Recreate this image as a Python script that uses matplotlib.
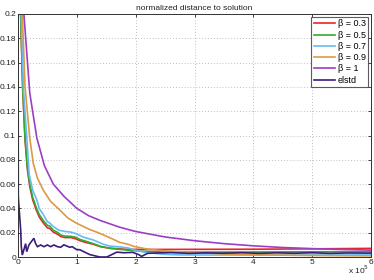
import matplotlib
matplotlib.use("Agg")
import matplotlib.pyplot as plt

# x in units of 1e5 iterations
b03_x = [0.045, 0.08, 0.12, 0.16, 0.2, 0.25, 0.28, 0.3, 0.36, 0.43, 0.5, 0.54, 0.6, 0.68, 0.73, 0.8, 0.9, 0.98, 1.05, 1.15, 1.28, 1.4, 1.56, 1.75, 1.87, 2.2, 3.0, 4.0, 5.0, 6.0]
b03_y = [0.2, 0.138, 0.096, 0.072, 0.058, 0.047, 0.043, 0.040, 0.033, 0.028, 0.024, 0.0235, 0.0205, 0.0185, 0.0168, 0.016, 0.016, 0.015, 0.0135, 0.012, 0.0105, 0.0085, 0.0072, 0.0066, 0.0063, 0.0062, 0.0063, 0.0064, 0.0067, 0.0071]

b05_x = [0.045, 0.08, 0.12, 0.16, 0.2, 0.25, 0.28, 0.3, 0.36, 0.43, 0.5, 0.54, 0.6, 0.68, 0.73, 0.8, 0.9, 0.98, 1.05, 1.15, 1.28, 1.4, 1.56, 1.75, 1.87, 2.1, 2.5, 3.0, 4.0, 5.0, 6.0]
b05_y = [0.2, 0.14, 0.098, 0.074, 0.06, 0.049, 0.045, 0.042, 0.035, 0.03, 0.026, 0.0255, 0.022, 0.02, 0.018, 0.0172, 0.017, 0.0162, 0.0145, 0.013, 0.011, 0.0088, 0.0072, 0.0062, 0.0056, 0.0047, 0.0041, 0.004, 0.0041, 0.0043, 0.0044]

b07_x = [0.055, 0.09, 0.15, 0.19, 0.25, 0.32, 0.36, 0.43, 0.5, 0.54, 0.6, 0.7, 0.8, 0.9, 1.0, 1.1, 1.28, 1.45, 1.56, 1.75, 1.87, 2.0, 2.2, 2.5, 2.75, 3.5, 4.5, 6.0]
b07_y = [0.2, 0.14, 0.098, 0.068, 0.055, 0.047, 0.04, 0.035, 0.029, 0.028, 0.025, 0.022, 0.021, 0.0205, 0.019, 0.0165, 0.014, 0.0105, 0.009, 0.0082, 0.0075, 0.0055, 0.0035, 0.0022, 0.0017, 0.0016, 0.0016, 0.0017]

b09_x = [0.073, 0.12, 0.2, 0.26, 0.33, 0.43, 0.55, 0.71, 0.85, 1.0, 1.2, 1.39, 1.6, 1.73, 1.87, 1.96, 2.2, 2.5, 2.75, 3.0, 3.5, 4.0, 5.0, 6.0]
b09_y = [0.2, 0.14, 0.098, 0.077, 0.065, 0.055, 0.046, 0.0387, 0.032, 0.0277, 0.023, 0.0195, 0.015, 0.012, 0.0105, 0.0088, 0.0065, 0.005, 0.0043, 0.0036, 0.0025, 0.0018, 0.0012, 0.0009]

b1_x = [0.1, 0.2, 0.32, 0.45, 0.6, 0.78, 1.0, 1.2, 1.4, 1.73, 2.0, 2.5, 3.0, 3.5, 4.0, 4.5, 5.0, 5.5, 6.0]
b1_y = [0.2, 0.135, 0.098, 0.075, 0.06, 0.05, 0.040, 0.034, 0.030, 0.0245, 0.021, 0.0165, 0.0134, 0.011, 0.0092, 0.0078, 0.0069, 0.0062, 0.0057]

el_x = [0.0, 0.005, 0.017, 0.046, 0.056, 0.073, 0.10, 0.13, 0.148, 0.187, 0.226, 0.27, 0.30, 0.33, 0.385, 0.44, 0.5, 0.555, 0.61, 0.67, 0.725, 0.78, 0.88, 0.92, 1.0, 1.05, 1.22, 1.39, 1.51, 1.68, 1.8, 1.95, 2.05, 2.1, 2.2, 2.35, 2.6, 2.9, 3.2, 3.5, 3.8, 4.1, 4.4, 4.7, 5.0, 5.3, 5.6, 6.0]
el_y = [0.25, 0.05, 0.041, 0.022, 0.0085, 0.0016, 0.006, 0.011, 0.0044, 0.01, 0.0126, 0.0154, 0.011, 0.0085, 0.0099, 0.0085, 0.0099, 0.0085, 0.0099, 0.0085, 0.008, 0.01, 0.008, 0.0085, 0.006, 0.006, 0.002, 0.0, 0.0, 0.004, 0.0035, 0.0038, 0.002, 0.0005, 0.003, 0.0033, 0.0036, 0.003, 0.0034, 0.0031, 0.0035, 0.003, 0.0034, 0.0031, 0.0035, 0.003, 0.0033, 0.0032]

labels = ["β = 0.3", "β = 0.5", "β = 0.7", "β = 0.9", "β = 1", "elstd"]
colors = ["#e8262a", "#33aa33", "#66bbf5", "#dd9944", "#9b3fc4", "#3a1e78"]

xticks = [0, 1, 2, 3, 4, 5, 6]
yticks = [0, 0.02, 0.04, 0.06, 0.08, 0.1, 0.12, 0.14, 0.16, 0.18, 0.2]
ytick_labels = ["0", "0.02", "0.04", "0.06", "0.08", "0.1", "0.12", "0.14", "0.16", "0.18", "0.2"]

plt.rcParams['font.family'] = ['Liberation Sans', 'DejaVu Sans']
fig = plt.figure(figsize=(3.74, 2.8), dpi=100)
ax = fig.add_axes([18/374, 23/280, 353/374, 243/280])

series = [(b03_x, b03_y), (b05_x, b05_y), (b07_x, b07_y), (b09_x, b09_y), (b1_x, b1_y), (el_x, el_y)]
for (xs, ys), lab, c in zip(series, labels, colors):
    ax.plot(xs, ys, color=c, lw=1.2, label=lab, solid_joinstyle='miter')

ax.set_xlim(0, 6)
ax.set_ylim(0, 0.2)
ax.set_xticks(xticks)
ax.set_xticklabels([str(t) for t in xticks])
ax.set_yticks(yticks)
ax.set_yticklabels(ytick_labels)
ax.tick_params(direction='in', length=2.5, width=0.6, labelsize=6, pad=1.5, colors='#222222', top=True, right=True)
ax.grid(True, linestyle=(0, (1, 2.5)), color='#aaaaaa', linewidth=0.6)
for s in ax.spines.values():
    s.set_linewidth(0.7)
    s.set_color('#333333')

ax.set_title("normalized distance to solution", fontsize=6, pad=3, color='#222222')

leg = ax.legend(loc='upper right', fontsize=6.5, frameon=True, fancybox=False,
                borderpad=0.3, labelspacing=0.25, handlelength=2.3, handletextpad=0.3,
                borderaxespad=0.3)
leg.get_frame().set_edgecolor('#333333')
leg.get_frame().set_linewidth(0.8)

fig.text(369/374, 4/280, r"x 10$^{5}$", ha='right', va='bottom', fontsize=6, color='#222222')

fig.savefig("out.png", dpi=100)
